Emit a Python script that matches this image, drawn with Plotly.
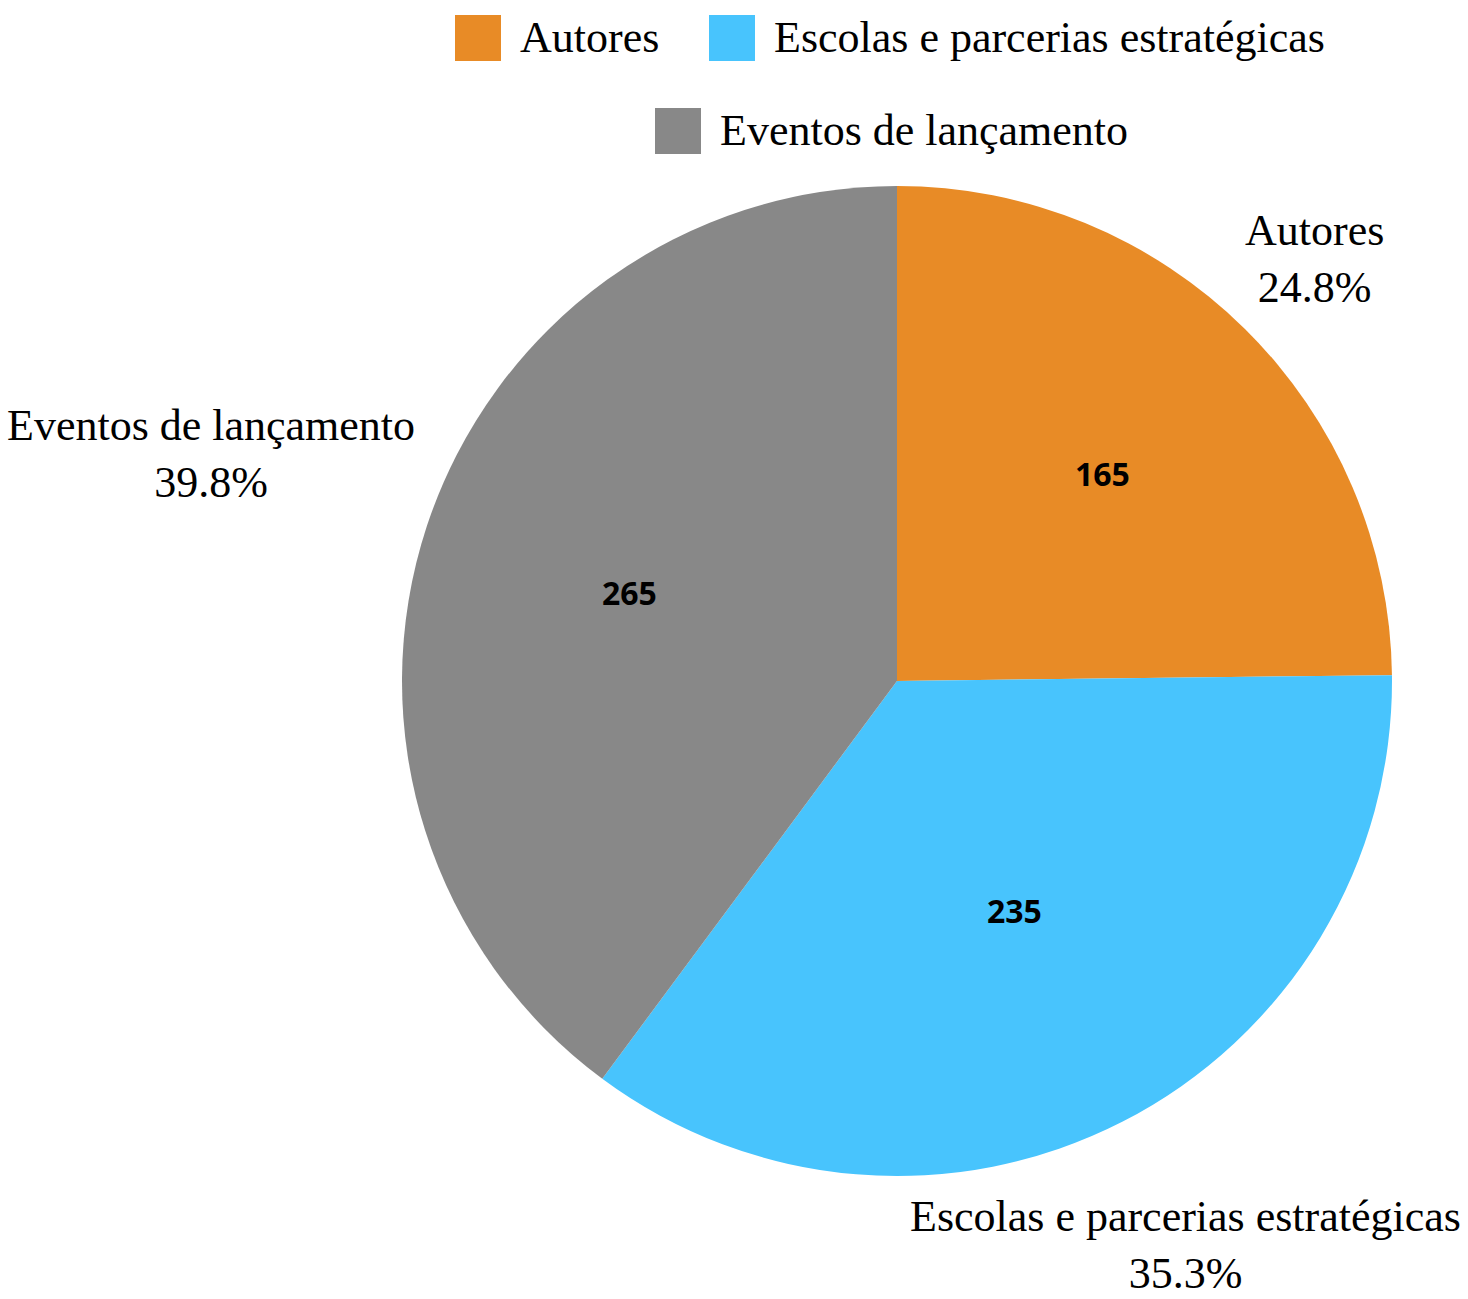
import math
import plotly.graph_objects as go

# Data
categories = ["Autores", "Escolas e parcerias estratégicas", "Eventos de lançamento"]
values = [165, 235, 265]
colors = ["#E88B26", "#48C4FD", "#888888"]

# Layout constants (pixels)
W, H = 1468, 1299
CX, CY, R = 897, 681, 495
label_dist = [1.20, 1.28, 1.46]    # outer label distance as a multiple of radius
value_dist = [0.59, 0.52, 0.57]    # inner value distance as a multiple of radius

SERIF = "Liberation Serif, DejaVu Serif, serif"
SANS = "Open Sans, Noto Sans, sans-serif"
FS = 44

fig = go.Figure()
fig.add_trace(go.Pie(
    labels=categories,
    values=values,
    marker=dict(colors=colors, line=dict(width=0)),
    sort=False,
    direction="clockwise",
    rotation=0,
    textinfo="none",
    showlegend=False,
    hoverinfo="label+value+percent",
    domain=dict(x=[(CX - R) / W, (CX + R) / W], y=[1 - (CY + R) / H, 1 - (CY - R) / H]),
))


def px(x, y):
    return x / W, 1 - y / H


# Labels placed along each slice's mid-angle
total = sum(values)
cum = 0
annotations = []
for name, v, k_out, k_in in zip(categories, values, label_dist, value_dist):
    mid = (cum + v / 2) / total * 2 * math.pi
    cum += v
    ux, uy = math.sin(mid), -math.cos(mid)
    # outer: name + percentage
    ax, ay = px(CX + ux * R * k_out, CY + uy * R * k_out)
    annotations.append(dict(
        x=ax, y=ay, xref="paper", yref="paper",
        text=f"{name}<br>{v / total * 100:.1f}%", showarrow=False,
        xanchor="center", yanchor="middle", align="center",
        font=dict(family=SERIF, size=FS, color="black"),
    ))
    # inner: value
    bx, by = px(CX + ux * R * k_in, CY + uy * R * k_in)
    annotations.append(dict(
        x=bx, y=by, xref="paper", yref="paper",
        text=f"<b>{v}</b>", showarrow=False,
        xanchor="center", yanchor="middle",
        font=dict(family=SANS, size=32, color="black"),
    ))

# Legend: colored squares with labels, two centered rows
legend_rows = [[0, 1], [2]]
legend_y = [38, 131]
row_x0 = [455, 655]
sq = 46
gap_text = 17
gap_item = 56
text_w = {0: 135, 1: 550, 2: 403}
shapes = []
for row, ly, x0 in zip(legend_rows, legend_y, row_x0):
    for i in row:
        sx0, sy0 = px(x0, ly + sq / 2)
        sx1, sy1 = px(x0 + sq, ly - sq / 2)
        shapes.append(dict(
            type="rect", xref="paper", yref="paper",
            x0=sx0, x1=sx1, y0=sy0, y1=sy1,
            fillcolor=colors[i], line=dict(width=0),
        ))
        tx, ty = px(x0 + sq + gap_text, ly)
        annotations.append(dict(
            x=tx, y=ty, xref="paper", yref="paper",
            text=categories[i], showarrow=False, xanchor="left", yanchor="middle",
            font=dict(family=SERIF, size=FS, color="black"),
        ))
        x0 += sq + gap_text + text_w[i] + gap_item

fig.update_layout(
    width=W, height=H,
    margin=dict(l=0, r=0, t=0, b=0),
    paper_bgcolor="white",
    plot_bgcolor="white",
    annotations=annotations,
    shapes=shapes,
    showlegend=False,
)

fig.write_html("out.html")
